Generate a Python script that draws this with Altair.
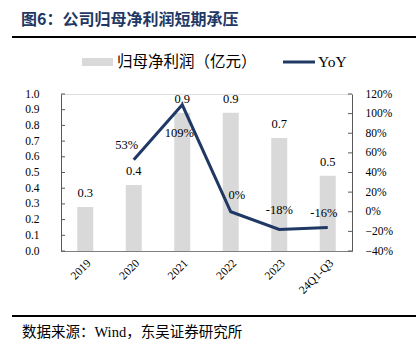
import altair as alt
import pandas as pd

categories = ["2019", "2020", "2021", "2022", "2023", "24Q1-Q3"]
profit = [0.28, 0.42, 0.88, 0.88, 0.72, 0.48]
profit_labels = ["0.3", "0.4", "0.9", "0.9", "0.7", "0.5"]
yoy = [None, 0.53, 1.09, 0.00, -0.18, -0.16]
yoy_labels = ["", "53%", "109%", "0%", "-18%", "-16%"]
left_ticks = [0.0, 0.1, 0.2, 0.3, 0.4, 0.5, 0.6, 0.7, 0.8, 0.9, 1.0]
right_ticks = [-0.4, -0.2, 0.0, 0.2, 0.4, 0.6, 0.8, 1.0, 1.2]

title_text = "图6：公司归母净利润短期承压"
legend_bar = "归母净利润（亿元）"
legend_line = "YoY"
source_text = "数据来源：Wind，东吴证券研究所"

SERIF = "Liberation Serif"
MIXED = "Liberation Serif, Noto Sans CJK SC"
CJK = "Noto Sans CJK SC"
BAR_C = "#D9D9D9"
LINE_C = "#1F3864"
AXIS_C = "#595959"

df = pd.DataFrame({"cat": categories, "profit": profit, "plabel": profit_labels,
                   "yoy": yoy, "ylabel": yoy_labels})
df_line = df.dropna(subset=["yoy"])
df_lt = pd.DataFrame({"v": left_ticks})
df_rt = pd.DataFrame({"v": right_ticks})
dummy = pd.DataFrame({"d": [0]})

x_enc = alt.X("cat:N", sort=categories,
              scale=alt.Scale(paddingInner=0.67, paddingOuter=0.335),
              axis=alt.Axis(title=None, labelAngle=-45, ticks=False, domainColor="#7F7F7F",
                            labelFont=SERIF, labelFontSize=11.5, labelColor="#000000",
                            labelPadding=6))

left_scale = alt.Scale(domain=[0, 1])
left_axis = alt.Axis(title=None, values=left_ticks, format=".1f", ticks=False,
                     domainColor=AXIS_C, labelFont=SERIF, labelFontSize=11.5,
                     labelColor="#000000", labelPadding=22, grid=False)
right_scale = alt.Scale(domain=[-0.4, 1.2])
right_axis = alt.Axis(title=None, orient="right", values=right_ticks, format=".0%", ticks=False,
                      domainColor=AXIS_C, labelFont=SERIF, labelFontSize=11.5,
                      labelColor="#000000", labelPadding=13, grid=False)

bars = alt.Chart(df).mark_bar(color=BAR_C).encode(
    x=x_enc, y=alt.Y("profit:Q", scale=left_scale, axis=left_axis))
bar_text = alt.Chart(df).mark_text(font=SERIF, fontSize=12.5, dy=-14, color="#000000").encode(
    x=x_enc, y=alt.Y("profit:Q", scale=left_scale, axis=left_axis), text="plabel:N")
lticks = alt.Chart(df_lt).mark_rule(color=AXIS_C).encode(
    x=alt.value(0), x2=alt.value(4), y=alt.Y("v:Q", scale=left_scale, axis=left_axis))
left_layer = alt.layer(bars, bar_text, lticks)

line = alt.Chart(df_line).mark_line(color=LINE_C, strokeWidth=3).encode(
    x=x_enc, y=alt.Y("yoy:Q", scale=right_scale, axis=right_axis))
offsets = {"2020": (-7, -15), "2021": (-3, 28), "2022": (6, -17), "2023": (0, -19), "24Q1-Q3": (-4, -14)}
ltexts = []
for c, (dx, dy) in offsets.items():
    ltexts.append(alt.Chart(df_line).transform_filter(alt.datum.cat == c).mark_text(
        font=SERIF, fontSize=12.5, dx=dx, dy=dy, color="#000000").encode(
        x=x_enc, y=alt.Y("yoy:Q", scale=right_scale, axis=right_axis), text="ylabel:N"))
rticks = alt.Chart(df_rt).mark_rule(color=AXIS_C).encode(
    x=alt.value(287), x2=alt.value(291), y=alt.Y("v:Q", scale=right_scale, axis=right_axis))
right_layer = alt.layer(line, *ltexts, rticks)

base = alt.Chart(dummy)
title = base.mark_text(text=title_text, font=CJK, fontSize=16, fontWeight="bold", color="#1F3864",
                       align="left", baseline="middle").encode(x=alt.value(-40), y=alt.value(-74))
title_rule = base.mark_rule(color="#000000", strokeWidth=2).encode(
    x=alt.value(-49), x2=alt.value(355), y=alt.value(-57))
leg_rect = base.mark_rect(color=BAR_C).encode(
    x=alt.value(21), x2=alt.value(52), y=alt.value(-36), y2=alt.value(-28))
leg_text1 = base.mark_text(text=legend_bar, font=CJK, fontSize=15.5, color="#000000",
                           align="left", baseline="middle").encode(x=alt.value(56), y=alt.value(-32))
leg_line = base.mark_rule(color=LINE_C, strokeWidth=3).encode(
    x=alt.value(222), x2=alt.value(254), y=alt.value(-32))
leg_text2 = base.mark_text(text=legend_line, font=SERIF, fontSize=15.5, color="#000000",
                           align="left", baseline="middle").encode(x=alt.value(257), y=alt.value(-32))
bottom_rule = base.mark_rule(color="#000000", strokeWidth=2).encode(
    x=alt.value(-49), x2=alt.value(355), y=alt.value(222))
source = base.mark_text(text=source_text, font=MIXED, fontSize=14.5, color="#000000",
                        align="left", baseline="middle").encode(x=alt.value(-39), y=alt.value(239))

chart = alt.layer(left_layer, right_layer, title, title_rule, leg_rect, leg_text1, leg_line,
                  leg_text2, bottom_rule, source).resolve_scale(y="independent").properties(
    width=291, height=157,
    autosize=alt.AutoSizeParams(type="none"),
    padding={"left": 61, "top": 94, "right": 64, "bottom": 100},
).configure_view(stroke=None).configure(background="#FFFFFF")

chart.save("out.html", embed_options={"renderer": "svg", "actions": False})
